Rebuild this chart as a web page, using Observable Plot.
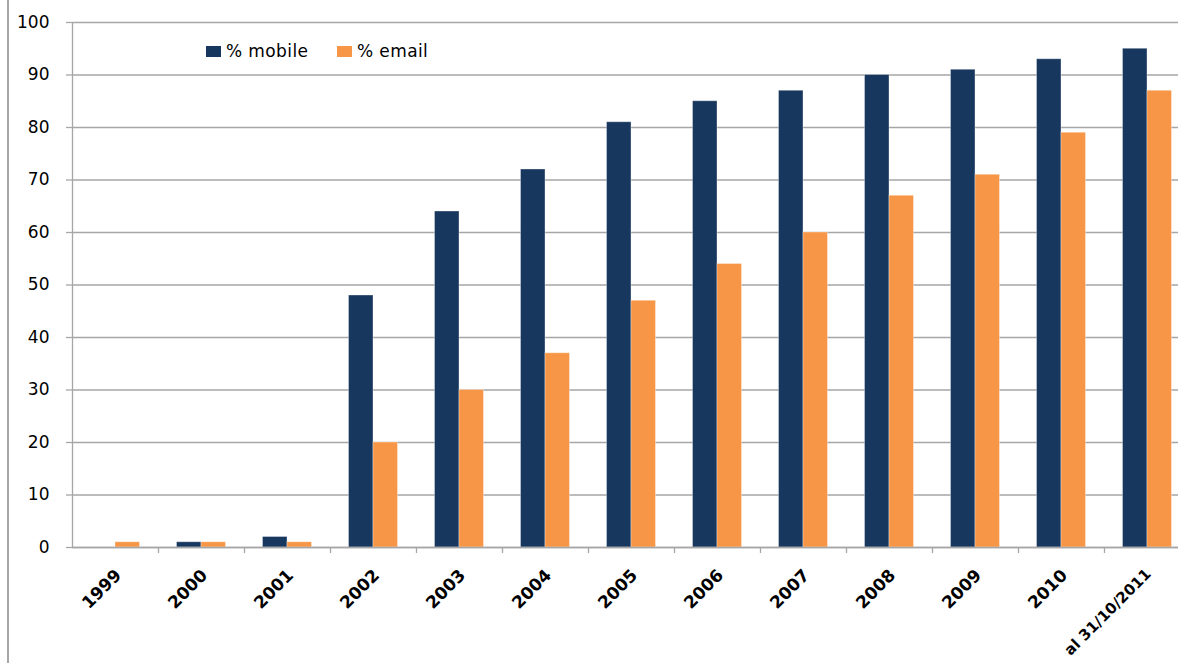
<!DOCTYPE html>
<html><head><meta charset="utf-8">
<script src="https://cdn.jsdelivr.net/npm/d3@7"></script>
<script src="https://cdn.jsdelivr.net/npm/@observablehq/plot@0.6"></script>
<style>
body{margin:0;background:#fff;overflow:hidden}
#wrap{position:relative;width:1178px;height:663px}
#frame{position:absolute;left:7px;top:0;width:2px;height:663px;background:#a6a6a6}
.item{position:absolute;top:41px;font:17px "DejaVu Sans";letter-spacing:0.4px;color:#000;display:flex;align-items:center;white-space:nowrap}
.sw{display:inline-block;width:15px;height:11px;margin-right:5px}
</style></head>
<body><div id="wrap"><div id="frame"></div></div>
<script>
const years = ["1999","2000","2001","2002","2003","2004","2005","2006","2007","2008","2009","2010","al 31/10/2011"];
const mobile = [0,1,2,48,64,72,81,85,87,90,91,93,95];
const email = [1,1,1,20,30,37,47,54,60,67,71,79,87];
const yTicks = [0,10,20,30,40,50,60,70,80,90,100];
const seriesNames = ["% mobile","% email"];
const colors = ["#17375E","#F79646"];

const mobileData = years.map((y,i)=>({year:y, value:mobile[i]}));
const emailData = years.map((y,i)=>({year:y, value:email[i]}));
const grid = "#a6a6a6";
const lastYear = years[years.length-1];

const chart = Plot.plot({
  width:1178, height:663,
  marginLeft:72, marginRight:0, marginTop:22, marginBottom:116,
  x:{type:"band", domain:years, range:[72,1190], padding:0, axis:null},
  y:{domain:[0,100], axis:null},
  style:{fontFamily:"DejaVu Sans", fontSize:"17px", color:"#000", background:"transparent"},
  marks:[
    Plot.gridY(yTicks, {stroke:grid, strokeOpacity:1, strokeWidth:1.3}),
    Plot.axisY(yTicks, {label:null, tickSize:6, tickPadding:17, stroke:grid, strokeWidth:1.3, fill:"#000", fontSize:17}),
    Plot.barY(mobileData, {x:"year", y:"value", fill:colors[0], insetLeft:18.5, insetRight:43, stroke:"#fff", strokeOpacity:0.35, strokeWidth:1}),
    Plot.barY(emailData, {x:"year", y:"value", fill:colors[1], insetLeft:43, insetRight:18.5, stroke:"#fff", strokeOpacity:0.35, strokeWidth:1}),
    Plot.ruleY([0], {stroke:grid, strokeWidth:1.3}),
    Plot.ruleX([years[0]], {x:d=>d, dx:-43, y1:0, y2:100, stroke:grid, strokeWidth:1.3}),
    Plot.ruleX(years.slice(1), {x:d=>d, dx:-43, y1:0, y2:-1.15, stroke:grid, strokeWidth:1.3}),
    Plot.text(years.slice(0,-1), {x:d=>d, y:()=>0, text:d=>d, rotate:-45, textAnchor:"end", lineAnchor:"middle", dx:3, dy:25, fontWeight:"bold", fontSize:17, fill:"#000"}),
    Plot.text([lastYear], {x:d=>d, y:()=>0, text:d=>d, rotate:-45, textAnchor:"end", lineAnchor:"middle", dx:1, dy:24, fontWeight:"bold", fontSize:15, fill:"#000"})
  ]
});
chart.style.position = "absolute";
chart.style.left = "0px";
chart.style.top = "0px";
const wrap = document.getElementById("wrap");
wrap.appendChild(chart);

const legendX = [206, 337];
seriesNames.forEach((name,i)=>{
  const d = document.createElement("div");
  d.className = "item";
  d.style.left = legendX[i] + "px";
  d.innerHTML = `<span class="sw" style="background:${colors[i]}"></span>${name}`;
  wrap.appendChild(d);
});
</script>
</body></html>
